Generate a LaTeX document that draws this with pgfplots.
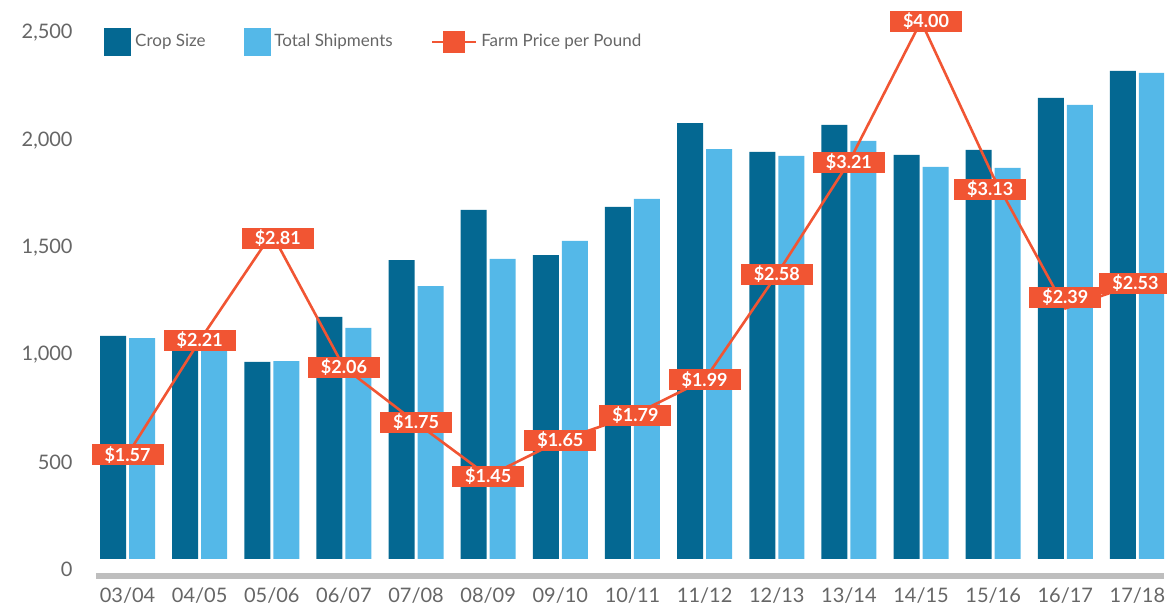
\documentclass[border=0pt]{standalone}
\usepackage{fontspec}
\setmainfont{Lato}
\usepackage{pgfplots}
\pgfplotsset{compat=1.18}
\usepackage{pgfplotstable}

\definecolor{cropc}{HTML}{046892}
\definecolor{shipc}{HTML}{54B8E8}
\definecolor{pricec}{HTML}{F15533}
\definecolor{basec}{HTML}{BEBEBE}
\definecolor{tickc}{HTML}{666666}

% million pounds
\pgfplotstableread{
x crop ship
0 1091 1081
1 1045 1032
2 970 974
3 1179 1128
4 1444 1323
5 1677 1449
6 1467 1533
7 1691 1728
8 2081 1960
9 1947 1928
10 2072 1998
11 1933 1877
12 1956 1872
13 2198 2165
14 2323 2314
}\bars

% dx, dy: label offsets in pt
\pgfplotstableread{
x price dx dy
0 1.57 0 0
1 2.21 0 0
2 2.81 3 -2.3
3 2.06 0 0
4 1.75 0 0
5 1.45 0 0
6 1.65 0 0
7 1.79 1.5 0
8 1.99 0 0
9 2.58 0 0
10 3.21 0 0
11 4.00 2.5 0
12 3.13 -1.5 -6.3
13 2.39 0 5.5
14 2.53 -1 0
}\prices

\begin{document}
\begin{tikzpicture}
\useasboundingbox (0,0) rectangle (583.5pt,304pt);

% ticks and base line
\begin{axis}[
  at={(48pt,16pt)}, anchor=south west,
  scale only axis, width=534pt, height=285.5pt,
  xmin=-0.437, xmax=14.368, ymin=-30, ymax=2630,
  axis lines*=left,
  x axis line style={-, line width=2.75pt, draw=basec},
  y axis line style={draw=none},
  tick style={draw=none},
  xtick={0,...,14},
  xticklabels={03/04,04/05,05/06,06/07,07/08,08/09,09/10,10/11,11/12,12/13,13/14,14/15,15/16,16/17,17/18},
  ytick={0,500,...,2500},
  /pgf/number format/assume math mode=true,
  ticklabel style={font=\fontsize{10}{12}\selectfont, text=tickc, inner sep=0pt},
  yticklabel style={anchor=east, xshift=-11.5pt},
  xticklabel style={anchor=base, yshift=-13.2pt},
]
\addplot[draw=none] coordinates {(0,0)};
\end{axis}

% bars
\begin{axis}[
  at={(48pt,24.5pt)}, anchor=south west,
  scale only axis, width=534pt, height=277pt,
  xmin=-0.437, xmax=14.368, ymin=53.5, ymax=2630,
  hide axis,
  ybar=1.5pt, bar width=13pt,
]
\addplot[fill=cropc, draw=none] table[x=x, y=crop]{\bars};
\addplot[fill=shipc, draw=none] table[x=x, y=ship]{\bars};
\end{axis}

% price line
\begin{axis}[
  at={(48pt,16pt)}, anchor=south west,
  scale only axis, width=534pt, height=285.5pt,
  xmin=-0.437, xmax=14.368, ymin=0.890, ymax=4.091,
  hide axis, clip=false,
  /pgf/number format/assume math mode=true,
  legend style={at={(axis description cs:0.0075,0.935)}, anchor=west,
    draw=none, fill=none, inner sep=0pt, legend columns=3,
    font=\fontsize{8.5}{10}\selectfont, text=tickc,
    nodes={inner sep=2pt},
    /tikz/every even column/.append style={column sep=17pt}},
  legend cell align=left,
]
\addlegendimage{legend image code/.code={\fill[cropc] (0pt,-6.75pt) rectangle (13pt,6.75pt);}}
\addlegendentry{Crop Size}
\addlegendimage{legend image code/.code={\fill[shipc] (0pt,-6.75pt) rectangle (13pt,6.75pt);}}
\addlegendentry{Total Shipments}
\addplot[pricec, line width=1.3pt,
  legend image code/.code={\draw[pricec, line width=1.3pt] (0pt,0pt)--(22pt,0pt);
    \fill[pricec] (6pt,-5pt) rectangle (16pt,5pt);},
  visualization depends on={\thisrow{dx}\as\dx},
  visualization depends on={\thisrow{dy}\as\dy},
  point meta=explicit,
  nodes near coords={\$\pgfmathprintnumber[fixed,fixed zerofill,precision=2]{\pgfplotspointmeta}},
  every node near coord/.append style={anchor=center, fill=pricec, text=white,
    font=\fontsize{9}{10}\selectfont\bfseries, inner sep=0pt,
    minimum width=36pt, minimum height=10.5pt, xshift=\dx pt, yshift=\dy pt},
] table[x=x, y=price, meta=price]{\prices};
\addlegendentry{Farm Price per Pound}
\end{axis}
\end{tikzpicture}
\end{document}
